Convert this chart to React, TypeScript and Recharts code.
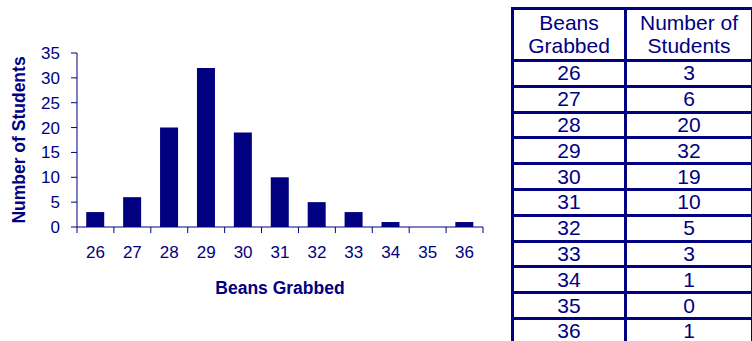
import { BarChart, Bar, XAxis, YAxis, Label } from 'recharts'

const beans = ['26', '27', '28', '29', '30', '31', '32', '33', '34', '35', '36']
const students = [3, 6, 20, 32, 19, 10, 5, 3, 1, 0, 1]
const yTicks = [0, 5, 10, 15, 20, 25, 30, 35]
const tableHeaders = [['Beans', 'Grabbed'], ['Number of', 'Students']]

const NAVY = '#000080'
const FONT = '"Liberation Sans", Arial, sans-serif'

const data = beans.map((b, i) => ({ beans: b, students: students[i] }))

// excel-style x tick: label in the middle, tick mark between categories
function XTick(props: any) {
  const { x, y, payload, index } = props
  const half = payload.offset ?? 407 / beans.length / 2
  const y1 = y - 19
  const y2 = y - 13
  return (
    <g>
      <line x1={x - half} x2={x - half} y1={y1} y2={y2} stroke={NAVY} />
      {index === beans.length - 1 && (
        <line x1={x + half} x2={x + half} y1={y1} y2={y2} stroke={NAVY} />
      )}
      <text x={x} y={y} dy="0.71em" textAnchor="middle" fill={NAVY} fontSize={17} fontFamily={FONT}>
        {payload.value}
      </text>
    </g>
  )
}

function YTitle(props: any) {
  const { viewBox } = props
  const cx = viewBox.x + 19
  const cy = viewBox.y + viewBox.height / 2
  return (
    <text
      x={cx}
      y={cy}
      transform={`rotate(-90 ${cx} ${cy})`}
      textAnchor="middle"
      dominantBaseline="central"
      fill={NAVY}
      fontSize={17.5}
      fontWeight="bold"
      fontFamily={FONT}
    >
      Number of Students
    </text>
  )
}

const cell = {
  border: `3px solid ${NAVY}`,
  padding: 0,
  textAlign: 'center' as const,
  verticalAlign: 'middle' as const,
}

export default function App() {
  return (
    <div style={{ position: 'fixed', left: 0, top: 0, width: 752, height: 341, overflow: 'hidden', background: '#fff' }}>
      <div style={{ position: 'absolute', left: 0, top: 0 }}>
        <BarChart
          width={500}
          height={341}
          data={data}
          margin={{ top: 53, right: 17, bottom: 84, left: 0 }}
          barCategoryGap="25%"
        >
          <XAxis
            dataKey="beans"
            height={30}
            stroke={NAVY}
            tickLine={false}
            tickSize={6}
            tickMargin={13}
            tick={<XTick />}
            interval={0}
          >
            <Label
              value="Beans Grabbed"
              position="bottom"
              offset={25}
              fill={NAVY}
              fontSize={17.5}
              fontWeight="bold"
              fontFamily={FONT}
            />
          </XAxis>
          <YAxis
            width={77}
            domain={[0, 35]}
            ticks={yTicks}
            interval={0}
            stroke={NAVY}
            tickSize={6}
            tickMargin={11}
            tick={{ fill: NAVY, fontSize: 17, fontFamily: FONT }}
          >
            <Label content={<YTitle />} />
          </YAxis>
          <Bar dataKey="students" fill={NAVY} isAnimationActive={false} />
        </BarChart>
      </div>
      <table
        style={{
          position: 'absolute',
          left: 511,
          top: 7,
          width: 240,
          borderCollapse: 'collapse',
          tableLayout: 'fixed',
          fontFamily: FONT,
          fontSize: 21,
          color: NAVY,
        }}
      >
        <colgroup>
          <col style={{ width: 113 }} />
          <col style={{ width: 127 }} />
        </colgroup>
        <tbody>
          <tr style={{ height: 52 }}>
            {tableHeaders.map((h, i) => (
              <td key={i} style={{ ...cell, lineHeight: '22.5px' }}>
                {h[0]}
                <br />
                {h[1]}
              </td>
            ))}
          </tr>
          {beans.map((b, i) => (
            <tr key={b} style={{ height: 25.8 }}>
              <td style={{ ...cell, lineHeight: '20px' }}>{b}</td>
              <td style={{ ...cell, lineHeight: '20px' }}>{students[i]}</td>
            </tr>
          ))}
        </tbody>
      </table>
    </div>
  )
}
